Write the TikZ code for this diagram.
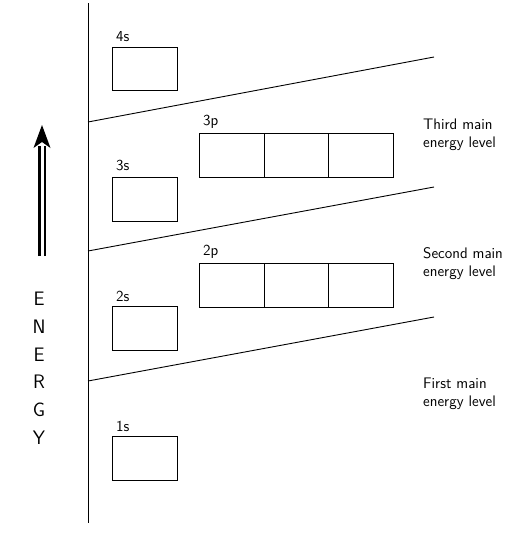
\documentclass[tikz,border=0pt]{standalone}
\begin{document}
\begin{tikzpicture}[x=1pt,y=-1pt,
  ln/.style={line width=0.9pt},
  orb/.style={draw,line width=0.9pt,inner sep=0pt,anchor=north west,minimum height=43.5pt},
  sorb/.style={orb,minimum width=65pt},
  porb/.style={orb,minimum width=64.67pt},
  lab/.style={font=\sffamily\fontsize{15.3}{18.5}\selectfont,inner sep=0pt,anchor=base west},
  side/.style={lab,align=left},
  letter/.style={font=\sffamily\fontsize{19.5}{22}\selectfont,inner sep=0pt,anchor=base}]
\useasboundingbox (0,0) rectangle (513,538);
% axis
\coordinate (top) at (88,3);
\coordinate (bot) at (88,523);
\draw[ln] (top) -- (bot);
% separators
\coordinate (a1) at (88,122); \coordinate (b1) at (434,57);
\coordinate (a2) at (88,251); \coordinate (b2) at (434,187);
\coordinate (a3) at (88,381); \coordinate (b3) at (434,317);
\draw[ln] (a1) -- (b1);
\draw[ln] (a2) -- (b2);
\draw[ln] (a3) -- (b3);
% s orbitals
\node[sorb] (s4) at (112,46.5) {};
\node[sorb] (s3) at (112,177) {};
\node[sorb] (s2) at (112,306) {};
\node[sorb] (s1) at (112,436) {};
\node[lab] (l4s) at (116,41) {4s};
\node[lab] (l3s) at (116,170.5) {3s};
\node[lab] (l2s) at (116,301) {2s};
\node[lab] (l1s) at (116,431) {1s};
% p orbitals
\node[porb] (p3a) at (199,133) {};
\node[porb] (p3b) at (263.67,133) {};
\node[porb] (p3c) at (328.33,133) {};
\node[porb] (p2a) at (199,263) {};
\node[porb] (p2b) at (263.67,263) {};
\node[porb] (p2c) at (328.33,263) {};
\node[lab] (l3p) at (203,125) {3p};
\node[lab] (l2p) at (203,255) {2p};
% side labels (base anchor = last line)
\node[side] (t3) at (423,147.5) {Third main\\energy level};
\node[side] (t2) at (423,276.5) {Second main\\energy level};
\node[side] (t1) at (423,406.5) {First main\\energy level};
% energy arrow
\draw[line width=2.2pt] (39.5,256) -- (39.5,146);
\draw[line width=1.3pt] (45,256) -- (45,146);
\fill (42,125) -- (50.5,148) -- (42,142) -- (33.5,148) -- cycle;
% ENERGY
\node[letter] (e1) at (39,305) {E};
\node[letter] (e2) at (39,333) {N};
\node[letter] (e3) at (39,361) {E};
\node[letter] (e4) at (39,388.5) {R};
\node[letter] (e5) at (39,416) {G};
\node[letter] (e6) at (39,444) {Y};
\end{tikzpicture}
\end{document}
